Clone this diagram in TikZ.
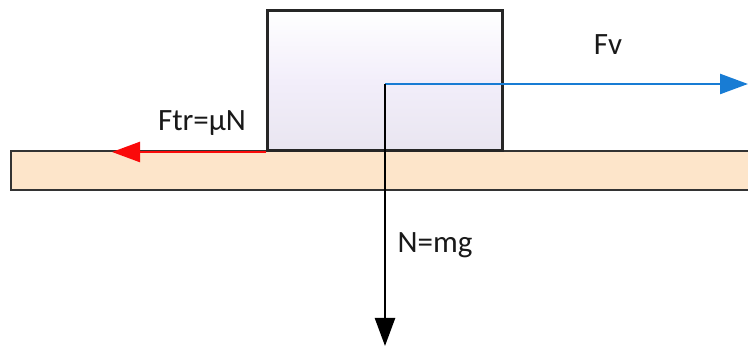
\documentclass[tikz,border=0pt]{standalone}
\usepackage{fontspec}
\setmainfont{Carlito}
\usetikzlibrary{arrows.meta}
\definecolor{peach}{RGB}{253,229,202}
\definecolor{lavender}{RGB}{242,238,250}
\definecolor{fblue}{RGB}{24,124,212}
\definecolor{fred}{RGB}{250,10,10}
\begin{document}
\begin{tikzpicture}[x=1pt,y=1pt,>={Triangle[length=28pt,width=20pt]},
    lbl/.style={font=\fontsize{31}{36}\selectfont,text=black!90,inner sep=0}]
    \useasboundingbox(0,0)rectangle(748,347);
    \node[draw=black!80,line width=1.5pt,fill=peach,minimum width=740pt,minimum height=39pt,inner sep=0,anchor=south west](ground)at(10,156){};
    \node[draw=black!85,line width=2.5pt,top color=white,bottom color=lavender!92!gray,middle color=lavender,minimum width=235pt,minimum height=140pt,inner sep=0,anchor=south west](block)at(266,195){};
    \coordinate(O)at(385,263);
    \coordinate(Fv)at(748,263);
    \coordinate(G)at(385,1);
    \coordinate(Ftr)at(112,195);
    \draw[->,fblue,line width=2.5pt](O)--(Fv);
    \draw[->,black,line width=2.5pt](O)--(G);
    \draw[->,fred,line width=2.5pt](block.south west)--(Ftr);
    \node[lbl](fvlabel)at(608,302){Fv};
    \node[lbl](ftrlabel)at(202,224){Ftr=µN};
    \node[lbl](nlabel)at(435,102){N=mg};
\end{tikzpicture}
\end{document}
